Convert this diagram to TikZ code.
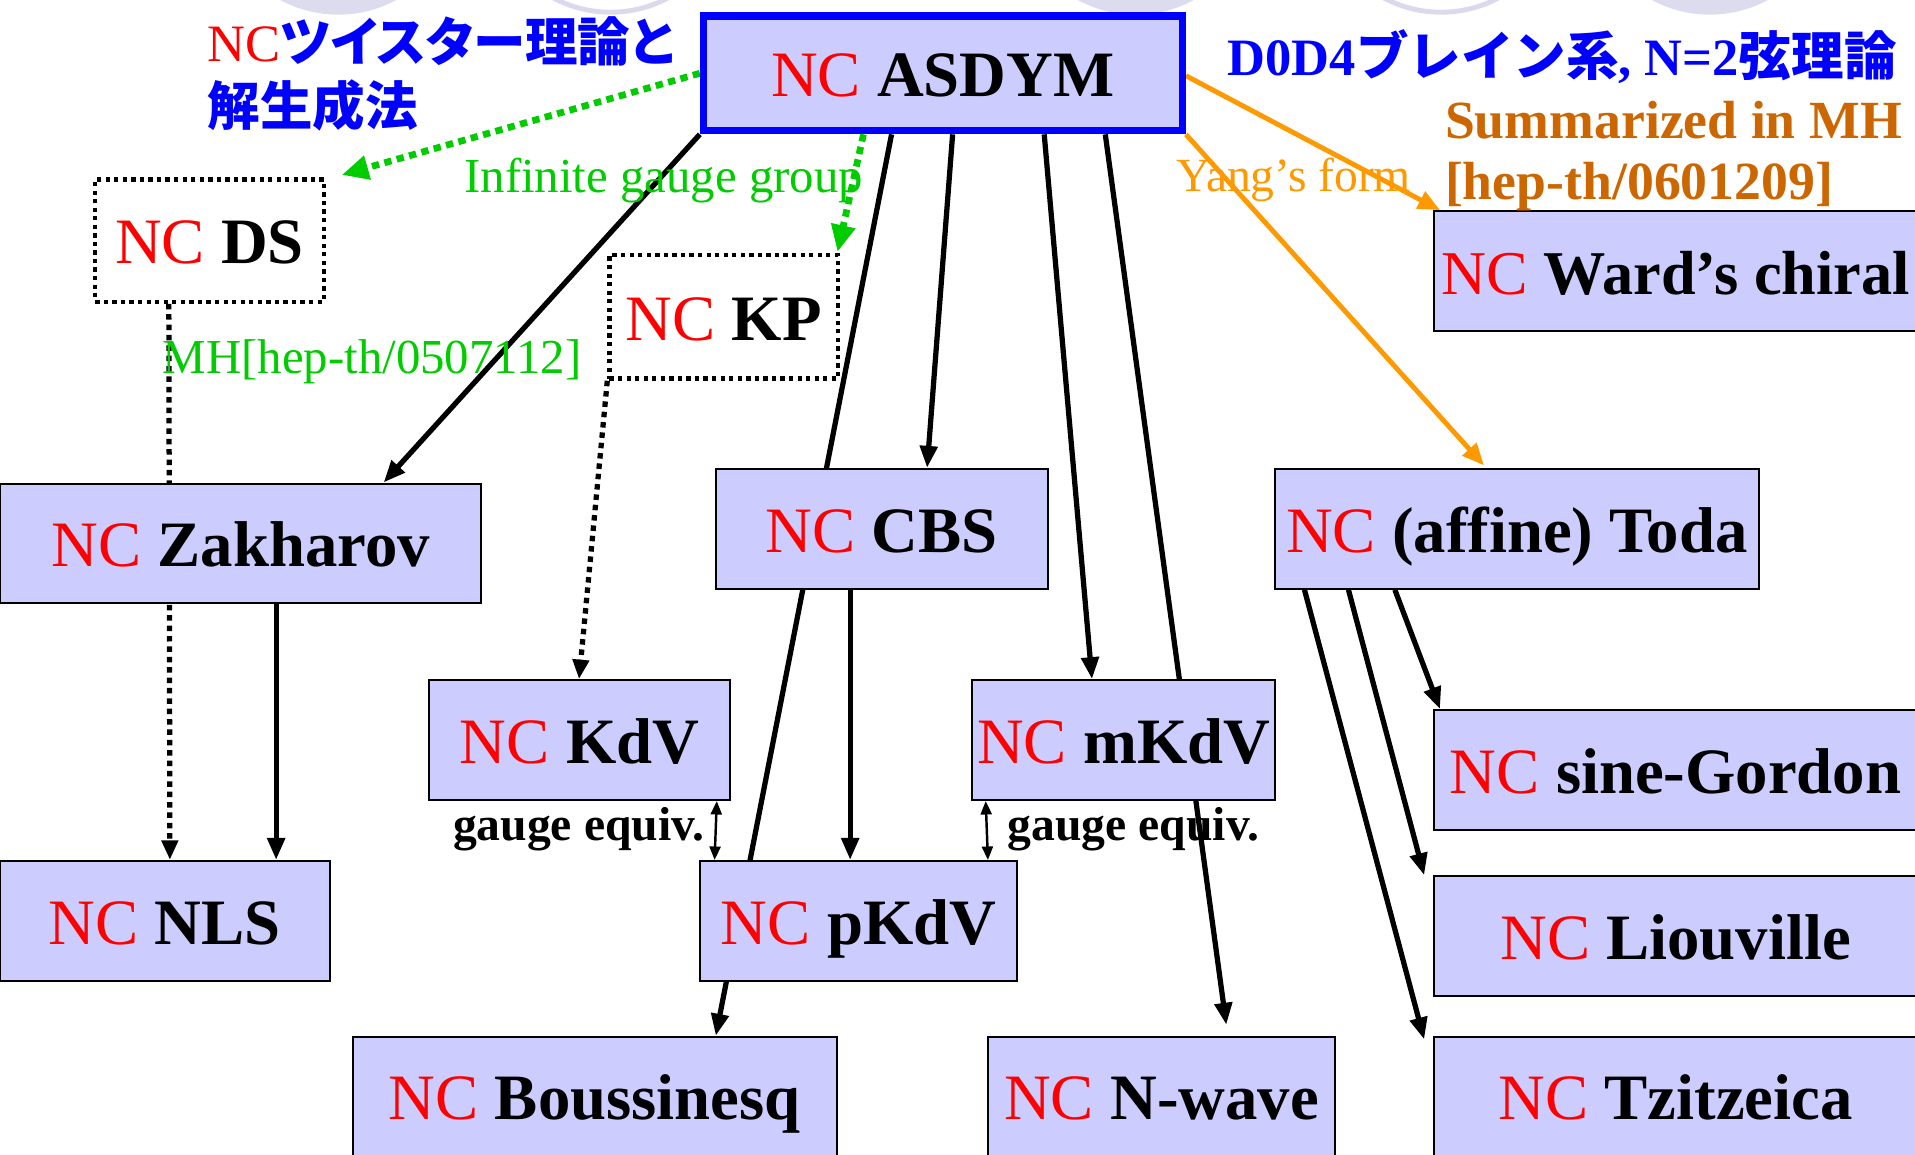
\documentclass[tikz,border=0pt]{standalone}
\usepackage{fontspec}
\setmainfont{Liberation Serif}
\newfontfamily\jpfont{Noto Sans CJK JP}
\newfontfamily\jppfont{Noto Sans CJK JP}[RawFeature=+palt]
\usetikzlibrary{arrows.meta,calc,backgrounds}
\definecolor{boxfill}{HTML}{CCCCFF}
\definecolor{ncred}{HTML}{FF0000}
\definecolor{grn}{HTML}{00CC00}
\definecolor{orng}{HTML}{FF9900}
\definecolor{brn}{HTML}{CC6600}
\definecolor{circfill}{HTML}{DCDCEE}
\definecolor{circline}{HTML}{DADAEC}
\newcommand{\nctag}[1]{{\color{ncred}NC} {\bfseries #1}}
\tikzset{
  eqbox/.style={draw=black, line width=1.8pt, fill=boxfill, inner sep=0pt,
    minimum height=98pt, text height=38pt, text depth=0pt,
    font=\fontsize{53}{60}\selectfont},
  dotbox/.style={draw=black, line width=3.5pt, dash pattern=on 3.5pt off 3.5pt, inner sep=0pt,
    minimum height=100pt, text height=38pt, text depth=0pt,
    font=\fontsize{53}{60}\selectfont},
  lab/.style={inner sep=0pt, font=\fontsize{40}{44}\selectfont},
  blk/.style={line width=4.3pt, -{Triangle[length=18pt,width=14pt]}},
  grnarr/.style={grn, line width=5.5pt, dash pattern=on 6pt off 4.5pt, -{Triangle[length=22pt,width=19pt]}},
  orgarr/.style={orng, line width=4pt, -{Triangle[length=18pt,width=15pt]}},
  dotarr/.style={line width=4.3pt, dash pattern=on 4.5pt off 4pt, -{Triangle[length=16pt,width=13pt]}},
  dblarr/.style={line width=2pt, {Triangle[length=11pt,width=9pt]}-{Triangle[length=11pt,width=9pt]}}
}
\begin{document}
\begin{tikzpicture}[x=1pt,y=-1pt]
\useasboundingbox (0,0) rectangle (1568,945);
\clip (0,0) rectangle (1568,945);
% decorative circles at the top edge
\fill[circfill] (277,-88) circle[radius=100];
\draw[circline, line width=4pt, fill=white] (500,-90) circle[radius=100];
\fill[circfill] (930,-88) circle[radius=100];
\draw[circline, line width=4pt, fill=white] (1180,-90) circle[radius=100];
\fill[circfill] (1400,-88) circle[radius=100];

% boxes
\node[eqbox, draw=blue, line width=6pt, minimum width=392pt, minimum height=94pt] (asdym) at (772,60) {\nctag{ASDYM}};
\node[dotbox, minimum width=187pt] (ds) at (171.5,197) {\nctag{DS}};
\node[dotbox, minimum width=187pt, minimum height=101pt] (kp) at (592.5,259.5) {\nctag{KP}};
\node[eqbox, minimum width=396pt, font=\fontsize{51}{58}\selectfont] (ward) at (1372,222) {\nctag{Ward’s chiral}};
\node[eqbox, minimum width=394pt] (zak) at (197,445) {\nctag{Zakharov}};
\node[eqbox, minimum width=272pt] (cbs) at (722,433) {\nctag{CBS}};
\node[eqbox, minimum width=396pt] (toda) at (1242,433) {\nctag{(affine) Toda}};
\node[eqbox, minimum width=247pt] (kdv) at (474.5,606) {\nctag{KdV}};
\node[eqbox, minimum width=248pt] (mkdv) at (920,606) {\nctag{mKdV}};
\node[eqbox, minimum width=396pt] (sg) at (1372,630.5) {\nctag{sine-Gordon}};
\node[eqbox, minimum width=270pt] (nls) at (135,754) {\nctag{NLS}};
\node[eqbox, minimum width=260pt] (pkdv) at (703,754) {\nctag{pKdV}};
\node[eqbox, minimum width=396pt] (liou) at (1372,766.5) {\nctag{Liouville}};
\node[eqbox, minimum width=396pt] (bous) at (487,898) {\nctag{Boussinesq}};
\node[eqbox, minimum width=284pt] (nwave) at (951,898) {\nctag{N-wave}};
\node[eqbox, minimum width=396pt] (tzi) at (1372,898) {\nctag{Tzitzeica}};

% texts
\node[lab, anchor=base west, font=\fontsize{43}{48}\selectfont] (tw1) at (170,50)
  {{\color{ncred}NC}{\color{blue}\bfseries\jppfont ツイスター理論と}};
\node[lab, anchor=base west, blue, font=\bfseries\fontsize{43}{48}\selectfont] (tw2) at (170,103)
  {{\jpfont 解生成法}};
\node[lab, anchor=base west, blue, font=\bfseries\fontsize{43}{48}\selectfont] (d0d4) at (1005,62)
  {D0D4{\jpfont ブレイン系}, N=2{\jpfont 弦理論}};
\node[lab, anchor=base west, brn, font=\bfseries\fontsize{44}{48}\selectfont] (summ) at (1183,113) {Summarized in MH};
\node[lab, anchor=base west, brn, font=\bfseries\fontsize{44}{48}\selectfont] (hep) at (1183,163) {[hep-th/0601209]};
\node[lab, anchor=base west, grn] (igg) at (380,158) {Infinite gauge group};
\node[lab, anchor=base west, grn] (mhref) at (133,306) {MH[hep-th/0507112]};
\node[lab, anchor=base west, orng, font=\fontsize{39}{44}\selectfont] (yang) at (963,157) {Yang’s form};
\node[lab, anchor=base east, font=\bfseries\fontsize{39}{44}\selectfont] (ge1) at (577,688) {gauge equiv.};
\node[lab, anchor=base west, font=\bfseries\fontsize{39}{44}\selectfont] (ge2) at (825,688) {gauge equiv.};

% connectors (behind the boxes)
\begin{scope}[on background layer]
\draw[grnarr] (asdym.west) -- ($(ds.north east)+(13,-2)$);
\draw[grnarr] ($(asdym.south west)+(134,0)$) -- ($(kp.north east)+(-2,-1)$);
\draw[blk] (asdym.south west) -- ($(zak.north west)+(315,0)$);
\draw[blk] ($(asdym.south west)+(157,0)$) -- ($(bous.north west)+(298,0)$);
\draw[blk] ($(asdym.south west)+(207,0)$) -- ($(cbs.north west)+(174,0)$);
\draw[blk] ($(cbs.south west)+(111,0)$) -- ($(pkdv.north west)+(124,0)$);
\draw[blk] ($(asdym.south west)+(282,0)$) -- ($(mkdv.north west)+(99,0)$);
\draw[blk] ($(asdym.south west)+(332,0)$) -- ($(nwave.north west)+(196,-9)$);
\draw[orgarr] ($(asdym.east)+(0,2)$) -- ($(ward.north west)+(6,0)$);
\draw[orgarr] (asdym.south east) -- ($(toda.north west)+(172,-2)$);
\draw[dotarr] ($(ds.south west)+(62,0)$) -- ($(nls.north west)+(140,0)$);
\draw[blk] ($(zak.south west)+(227,0)$) -- ($(nls.north west)+(227,0)$);
\draw[dotarr] (kp.south west) -- ($(kdv.north west)+(124,0)$);
\draw[dblarr] ($(kdv.south east)+(-12,0)$) -- ($(pkdv.north west)+(13,0)$);
\draw[dblarr] ($(mkdv.south west)+(12,0)$) -- ($(pkdv.north east)+(-25,0)$);
\draw[blk] ($(toda.south west)+(99,0)$) -- ($(sg.north west)+(6,0)$);
\draw[blk] ($(toda.south west)+(61,0)$) -- ($(liou.north west)+(-7,0)$);
\draw[blk] ($(toda.south west)+(25,0)$) -- ($(tzi.north west)+(-7,3)$);
\end{scope}
\end{tikzpicture}
\end{document}
